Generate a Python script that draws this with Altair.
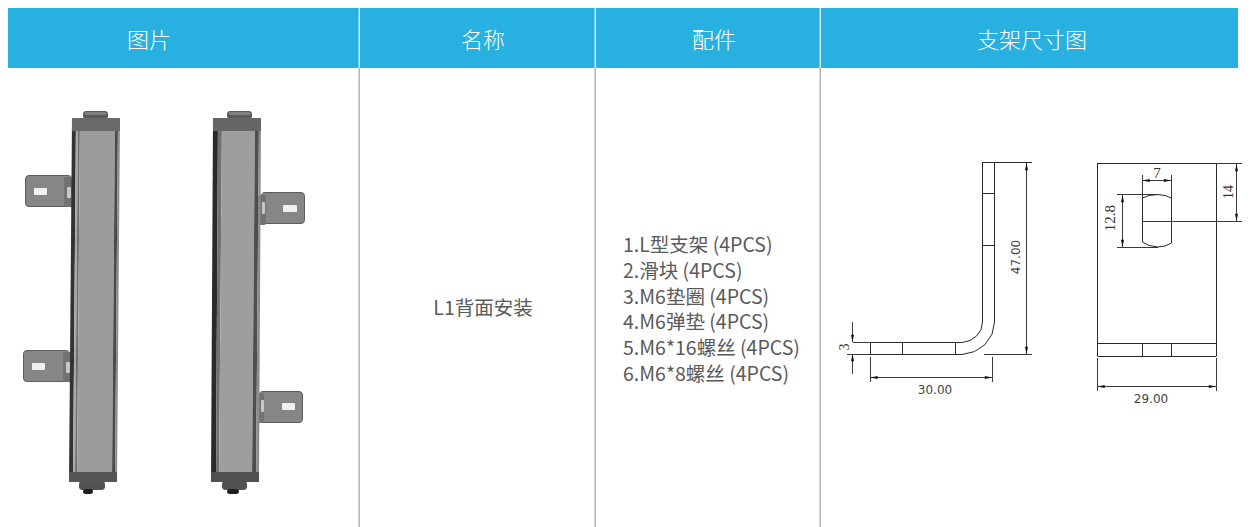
import altair as alt
import pandas as pd

# Page-pixel domain: body margin is 8 px
XD = [8, 1246]
YD = [527, 8]
CJK = "Noto Sans CJK SC"
BLUE = "#28b1e0"
GRID = "#b4b4b4"
TXT = "#5a5a5a"
INK = "#2a2a2a"
DIM = "#3a3a3a"

# --- filled blocks: x, x2, y, y2, colour
header = [(8, 1238, 8, 68, BLUE)]
header_seps = [(358.5, 360, 8, 68, "#cfe9f4"), (594.5, 596, 8, 68, "#cfe9f4"), (819.5, 821, 8, 68, "#cfe9f4")]
col_seps = [(358.5, 360, 68, 527, GRID), (594.5, 596, 68, 527, GRID), (819.5, 821, 68, 527, GRID)]

plate_edges = [
    (25, 72, 175, 207, "#5f5f5f"), (23, 70, 350, 382, "#5f5f5f"),
    (261, 305, 192, 224, "#5f5f5f"), (259, 303, 391, 423, "#5f5f5f"),
]
plates = [
    (26, 72, 176, 206, "#868686"), (24, 70, 351, 381, "#868686"),
    (261, 304, 193, 223, "#868686"), (259, 302, 392, 422, "#868686"),
]
plate_hubs = [
    (64, 74, 177, 207, "#727272"), (63, 73, 352, 382, "#727272"),
    (258, 266, 195, 225, "#727272"), (257, 264, 393, 423, "#727272"),
]
slots = [
    (34, 47, 188, 195, "#f0f0f0"), (32, 45, 363, 370, "#f0f0f0"),
    (283, 297, 205, 212, "#f0f0f0"), (282, 295, 403, 410, "#f0f0f0"),
    (67, 71, 187, 198, "#c8c8c8"), (66, 70, 362, 373, "#c8c8c8"),
    (262, 265, 202, 214, "#c8c8c8"), (261, 264, 400, 412, "#c8c8c8"),
]
caps = [
    (83, 108, 111, 119, "#5a5a5a"), (227, 252, 111, 119, "#5a5a5a"),
    (79, 105, 481, 490, "#525252"), (222, 247, 481, 490, "#525252"),
    (83, 93, 489, 494, "#1e1e1e"), (227, 239, 489, 494, "#1e1e1e"),
]
cap_lights = [(85, 106, 112, 115, "#808080"), (229, 250, 112, 115, "#808080")]

# --- slanted strips of the two sensors: id, top x, top x2, bottom x, bottom x2, colour
strip_top, strip_bottom = 118, 482
strips = [
    ("a1", 72, 76, 69, 73, "#333333"), ("a2", 76, 78, 73, 75, "#a8a8a8"), ("a3", 78, 80, 75, 77, "#6e6e6e"),
    ("a4", 80, 115, 77, 112, "#9c9c9c"), ("a5", 115, 118, 112, 115, "#4a4a4a"), ("a6", 118, 120, 115, 117, "#8c8c8c"),
    ("b1", 213, 218, 211, 216, "#2a2a2a"), ("b2", 218, 222, 216, 219, "#707070"),
    ("b3", 222, 255, 219, 252, "#9e9e9e"), ("b4", 255, 259, 252, 256, "#4e4e4e"), ("b5", 259, 261, 256, 259, "#8c8c8c"),
]
bands = [
    (72, 120, 118, 131, "#6a6a6a"), (213, 261, 118, 131, "#666666"),
    (69, 117, 472, 482, "#555555"), (211, 259, 472, 482, "#505050"),
]

# --- drawing line segments: x, x2, y, y2
part_lines = [
    # L bracket side view
    (982.5, 1032, 162.5, 162.5), (982.5, 982.5, 162, 322), (994.5, 994.5, 162, 322),
    (982, 994, 193.5, 193.5), (982, 994, 245.5, 245.5),
    (870.5, 962, 342.5, 342.5), (870.5, 962, 354.5, 354.5), (870.5, 870.5, 342, 355),
    (902.5, 902.5, 342, 354), (955.5, 955.5, 342, 354),
    # plate front view
    (1097.5, 1216.5, 163.5, 163.5), (1097.5, 1216.5, 356.5, 356.5), (1097.5, 1097.5, 163, 356),
    (1216.5, 1216.5, 163, 356), (1097, 1216, 343.5, 343.5),
    (1142.5, 1142.5, 343, 356), (1171.5, 1171.5, 343, 356),
    (1142.5, 1142.5, 198, 242), (1171.5, 1171.5, 198, 243),
]
dim_lines = [
    (984, 1032, 354.5, 354.5), (1026.5, 1026.5, 163, 354), (870, 992, 377.5, 377.5),
    (870.5, 870.5, 357, 382), (992.5, 992.5, 357, 382),
    (853, 870, 342.5, 342.5), (847, 870, 354.5, 354.5),
    (852.5, 852.5, 322, 342), (852.5, 852.5, 354, 374),
    (1216, 1242, 163.5, 163.5), (1142, 1242, 221.5, 221.5), (1236.5, 1236.5, 164, 221),
    (1142, 1171, 180.5, 180.5), (1142.5, 1142.5, 175, 198), (1171.5, 1171.5, 175, 198),
    (1122.5, 1122.5, 195, 247), (1117, 1158, 194.5, 194.5), (1117, 1158, 247.5, 247.5),
    (1097, 1216, 386.5, 386.5), (1097.5, 1097.5, 358, 391), (1216.5, 1216.5, 358, 391),
]

# --- curved outlines
curves = {
    "inner": [(982.5, 322), (981, 329.7), (976.5, 336.1), (970, 340.5), (962, 342.5)],
    "outer": [(994.5, 322), (992, 334.2), (985, 344.6), (974.5, 351.6), (962, 354.5)],
    "slot_top": [(1142.5, 198), (1149, 195.5), (1158, 194.5), (1165, 195.5), (1171.5, 198)],
    "slot_bot": [(1142.5, 242), (1149, 245.5), (1158, 247), (1165, 246), (1171.5, 243)],
}

# --- arrowheads: x, y, direction
arrows = [
    (1026.5, 163, "up"), (1026.5, 354, "down"), (870.5, 377.5, "left"), (992, 377.5, "right"),
    (852.5, 342, "down"), (852.5, 354, "up"),
    (1236.5, 164, "up"), (1236.5, 221, "down"), (1142.5, 180.5, "left"), (1171, 180.5, "right"),
    (1122.5, 195, "up"), (1122.5, 247, "down"), (1097.5, 386.5, "left"), (1216, 386.5, "right"),
]
arrow_paths = {
    "up": "M0,0L0.5,2.4L-0.5,2.4Z", "down": "M0,0L0.5,-2.4L-0.5,-2.4Z",
    "left": "M0,0L2.4,0.5L2.4,-0.5Z", "right": "M0,0L-2.4,0.5L-2.4,-0.5Z",
}

# --- text: x, y, label
head_text = [(149, 39, "图片"), (483, 39, "名称"), (714, 39, "配件"), (1032, 39, "支架尺寸图")]
name_text = [(483, 307, "L1背面安装")]
list_labels = ["1.L型支架 (4PCS)", "2.滑块 (4PCS)", "3.M6垫圈 (4PCS)", "4.M6弹垫 (4PCS)", "5.M6*16螺丝 (4PCS)", "6.M6*8螺丝 (4PCS)"]
list_y = [245, 271, 297, 322, 348, 374]
dim_text = [(935, 389.5, "30.00", 0, 12), (1016, 257, "47.00", 270, 12), (1151, 399, "29.00", 0, 12)]
serif_text = [(845, 347, "3", 270, 14), (1229, 192, "14", 270, 14), (1157, 173, "7", 0, 15), (1110, 218, "12.8", 270, 15)]

X = lambda f="x": alt.X(f"{f}:Q", scale=alt.Scale(domain=XD, nice=False, zero=False), axis=None, stack=None)
Y = lambda f="y": alt.Y(f"{f}:Q", scale=alt.Scale(domain=YD, nice=False, zero=False), axis=None)


def blocks(rows, radius=0):
    df = pd.DataFrame(rows, columns=["x", "x2", "y", "y2", "c"])
    return alt.Chart(df).mark_rect(cornerRadius=radius).encode(
        x=X(), x2="x2:Q", y=Y(), y2="y2:Q", color=alt.Color("c:N", scale=None))


def segments(rows, colour, width):
    df = pd.DataFrame(rows, columns=["x", "x2", "y", "y2"])
    return alt.Chart(df).mark_rule(color=colour, strokeWidth=width).encode(
        x=X(), x2="x2:Q", y=Y(), y2="y2:Q")


def texts(rows, font, size, colour, dy=0, align="center", weight=400):
    df = pd.DataFrame(rows, columns=["x", "y", "t"])
    return alt.Chart(df).mark_text(font=font, fontSize=size, color=colour, dy=dy, fontWeight=weight,
                                   align=align, baseline="middle").encode(x=X(), y=Y(), text="t:N")


def turned(rows, font, colour):
    out = []
    for x, y, t, a, s in rows:
        df = pd.DataFrame([(x, y, t)], columns=["x", "y", "t"])
        out.append(alt.Chart(df).mark_text(font=font, fontSize=s, color=colour, angle=a,
                                           align="center", baseline="middle").encode(x=X(), y=Y(), text="t:N"))
    return out


strip_rows = []
for sid, tx, tx2, bx, bx2, c in strips:
    strip_rows.append((sid, strip_top, tx, tx2, c))
    strip_rows.append((sid, strip_bottom, bx, bx2, c))
strip_df = pd.DataFrame(strip_rows, columns=["id", "y", "x", "x2", "c"])
strip_layer = alt.Chart(strip_df).mark_area(orient="horizontal", interpolate="linear").encode(
    y=Y(), x=X(), x2="x2:Q", detail="id:N", color=alt.Color("c:N", scale=None))

curve_rows = [(k, i, x, y) for k, pts in curves.items() for i, (x, y) in enumerate(pts)]
curve_df = pd.DataFrame(curve_rows, columns=["id", "i", "x", "y"])
curve_layer = alt.Chart(curve_df).mark_line(color=INK, strokeWidth=1).encode(
    x=X(), y=Y(), detail="id:N", order="i:Q")

arrow_df = pd.DataFrame([(x, y, arrow_paths[d]) for x, y, d in arrows], columns=["x", "y", "p"])
arrow_layer = alt.Chart(arrow_df).mark_point(filled=True, color="#111111", opacity=1, size=36).encode(
    x=X(), y=Y(), shape=alt.Shape("p:N", scale=None))

layers = [
    blocks(header), blocks(header_seps), blocks(col_seps),
    texts(head_text, CJK, 22, "#ffffff", dy=2, weight=300),
    texts(name_text, CJK, 19.5, TXT, dy=2),
    texts(list(zip([623] * 6, list_y, list_labels)), CJK, 19.5, TXT, dy=1, align="left"),
    blocks(plate_edges, 4), blocks(plates, 3), blocks(plate_hubs, 2), blocks(slots, 1),
    blocks(caps, 3), strip_layer, blocks(bands), blocks(cap_lights, 1),
    segments(part_lines, INK, 1), segments(dim_lines, DIM, 1), curve_layer, arrow_layer,
] + turned(dim_text, "DejaVu Sans", "#444444") + turned(serif_text, "Liberation Serif", "#333333")

chart = alt.layer(*layers).properties(
    width=1238, height=519, padding=0, autosize=alt.AutoSizeParams(type="none"), background="#ffffff",
).configure_view(stroke=None)

chart.save("out.html", embed_options={"renderer": "svg", "actions": False})
